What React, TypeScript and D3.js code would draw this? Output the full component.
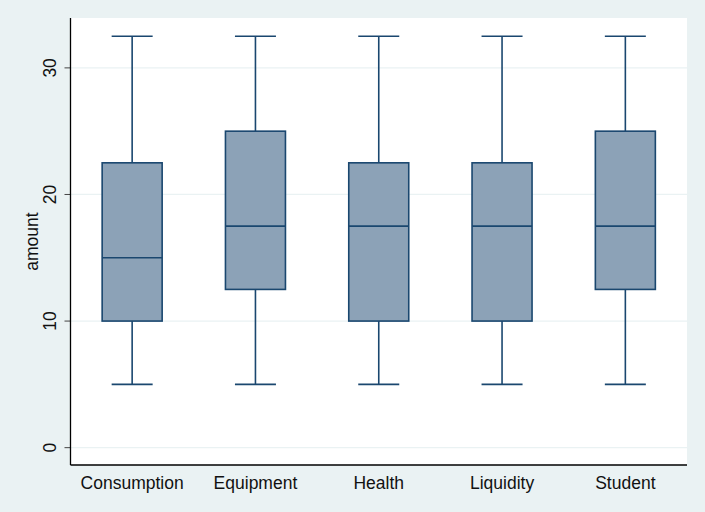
import React from "react";
import * as d3 from "d3";

const categories = ["Consumption", "Equipment", "Health", "Liquidity", "Student"];
const mins = [5, 5, 5, 5, 5];
const q1s = [10, 12.5, 10, 10, 12.5];
const medians = [15, 17.5, 17.5, 17.5, 17.5];
const q3s = [22.5, 25, 22.5, 22.5, 25];
const maxs = [32.5, 32.5, 32.5, 32.5, 32.5];
const yTicks = [0, 10, 20, 30];

const W = 705, H = 512;
const left = 70.5, right = 687, top = 18, bottom = 465;
const FONT = "Arial, 'Liberation Sans', Helvetica, sans-serif";
const stroke = "#1A476F";
const fill = "#8CA2B7";
const bg = "#EAF2F3";

export default function App() {
  const y = d3.scaleLinear().domain([-1.37, 33.94]).range([bottom, top]);
  const x = d3.scaleBand<string>().domain(categories).range([left, right]).padding(0);
  const boxW = 60;
  const capW = 41;
  return (
    <svg width={W} height={H} style={{ position: "absolute", left: 0, top: 0 }}>
      <rect x={0} y={0} width={W} height={H} fill={bg} />
      <rect x={left} y={top} width={right - left} height={bottom - top} fill="#ffffff" />
      {yTicks.map((t) => (
        <g key={t}>
          <line x1={left} x2={right} y1={y(t)} y2={y(t)} stroke={bg} strokeWidth={1.3} />
          <line x1={left - 6} x2={left} y1={y(t)} y2={y(t)} stroke="#444" strokeWidth={1} />
          <text
            transform={`translate(56,${y(t)}) rotate(-90)`}
            textAnchor="middle"
            fontFamily={FONT}
            fontSize={17.5}
            fill="#111"
          >
            {t}
          </text>
        </g>
      ))}
      {categories.map((c, i) => {
        const cx = (x(c) as number) + x.bandwidth() / 2;
        return (
          <g key={c}>
            <line x1={cx} x2={cx} y1={y(maxs[i])} y2={y(q3s[i])} stroke={stroke} strokeWidth={1.6} />
            <line x1={cx} x2={cx} y1={y(q1s[i])} y2={y(mins[i])} stroke={stroke} strokeWidth={1.6} />
            <line x1={cx - capW / 2} x2={cx + capW / 2} y1={y(maxs[i])} y2={y(maxs[i])} stroke={stroke} strokeWidth={1.6} />
            <line x1={cx - capW / 2} x2={cx + capW / 2} y1={y(mins[i])} y2={y(mins[i])} stroke={stroke} strokeWidth={1.6} />
            <rect
              x={cx - boxW / 2}
              y={y(q3s[i])}
              width={boxW}
              height={y(q1s[i]) - y(q3s[i])}
              fill={fill}
              stroke={stroke}
              strokeWidth={1.6}
            />
            <line x1={cx - boxW / 2} x2={cx + boxW / 2} y1={y(medians[i])} y2={y(medians[i])} stroke={stroke} strokeWidth={1.6} />
            <text x={cx} y={489} textAnchor="middle" fontFamily={FONT} fontSize={17.5} fill="#111">
              {c}
            </text>
          </g>
        );
      })}
      <line x1={left} x2={left} y1={top} y2={bottom} stroke="#000" strokeWidth={1.3} />
      <line x1={left} x2={right} y1={bottom} y2={bottom} stroke="#000" strokeWidth={1.3} />
      <text
        transform={`translate(37.5,${(top + bottom) / 2}) rotate(-90)`}
        textAnchor="middle"
        fontFamily={FONT}
        fontSize={17.5}
        fill="#111"
      >
        amount
      </text>
    </svg>
  );
}
